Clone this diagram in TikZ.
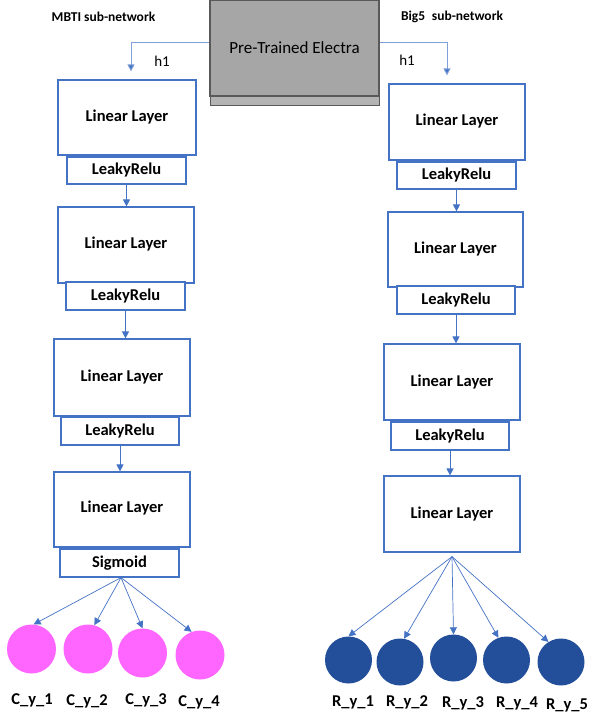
\documentclass[tikz,border=0pt]{standalone}
\usepackage{fontspec}
\setmainfont{Carlito}
\usetikzlibrary{arrows.meta}
\definecolor{bl}{HTML}{4472C4}
\definecolor{blline}{HTML}{7FA0D8}
\definecolor{pinkc}{HTML}{FF66FF}
\definecolor{navyc}{HTML}{234E9A}
\definecolor{grayfill}{HTML}{A6A6A6}
\definecolor{grayedge}{HTML}{595959}
\begin{document}
\begin{tikzpicture}[x=1pt,y=-1pt,
  lin/.style={draw=bl, line width=1.2pt, fill=white, inner sep=0pt, minimum width=136pt, minimum height=76pt, font=\bfseries\fontsize{16.5}{18}\selectfont},
  act/.style={draw=bl, line width=1.2pt, fill=white, inner sep=0pt, minimum width=118pt, minimum height=28pt, font=\bfseries\fontsize{16.5}{18}\selectfont},
  arr/.style={draw=bl, line width=0.9pt, -{Triangle[width=7pt,length=7pt]}},
  harr/.style={draw=blline, line width=0.9pt, -{Triangle[width=7pt,length=7pt,fill=bl]}},
  pc/.style={circle, fill=pinkc, draw=none, minimum size=49pt, inner sep=0pt},
  nc/.style={circle, fill=navyc, draw=none, minimum size=47pt, inner sep=0pt},
  lab/.style={font=\bfseries\fontsize{16.5}{18}\selectfont, inner sep=0pt},
  ttl/.style={font=\bfseries\fontsize{13.5}{15}\selectfont, inner sep=0pt}
]
\useasboundingbox (0,0) rectangle (590,720);

% top
\node[ttl] (tm) at (103.5,17) {MBTI sub-network};
\node[ttl] (tb) at (452,17) {Big5\enspace sub-network};
\fill[grayfill!85] (210,96) rectangle (379,105);
\draw[grayedge, line width=1pt] (210,96) rectangle (379,105);
\node[draw=grayedge, line width=1.4pt, fill=grayfill, minimum width=169pt, minimum height=96pt, inner sep=0pt,
  font=\fontsize{17}{19}\selectfont] (el) at (294.5,48) {Pre-Trained Electra};
\node[inner sep=0pt, font=\fontsize{15}{17}\selectfont] (h1a) at (162,61) {h1};
\node[inner sep=0pt, font=\fontsize{15}{17}\selectfont] (h1b) at (407,60) {h1};

% left column
\node[lin] (a1) at (127,117.5) [minimum width=138pt, minimum height=75pt] {Linear Layer};
\node[act] (ar1) at (126.5,170.5) [minimum width=119pt, minimum height=27pt] {LeakyRelu};
\node[lin] (a2) at (126,245) {\raisebox{5pt}{Linear Layer}};
\node[act] (ar2) at (125.5,296) [minimum width=119pt] {LeakyRelu};
\node[lin] (a3) at (122,377.5) [minimum height=77pt] {Linear Layer};
\node[act] (ar3) at (120,431) {LeakyRelu};
\node[lin] (a4) at (122,509.5) [minimum height=75pt] {\raisebox{5pt}{Linear Layer}};
\node[act] (sg) at (119.5,563) [minimum width=119pt] {Sigmoid};

% right column
\node[lin] (b1) at (457,122) [minimum height=76pt] {\raisebox{4pt}{Linear Layer}};
\node[act] (br1) at (456.5,175.5) [minimum width=119pt, minimum height=27pt] {LeakyRelu};
\node[lin] (b2) at (455.5,249.5) [minimum width=135pt, minimum height=75pt] {\raisebox{4pt}{Linear Layer}};
\node[act] (br2) at (456,300) {LeakyRelu};
\node[lin] (b3) at (452,382) {Linear Layer};
\node[act] (br3) at (450,436) {LeakyRelu};
\node[lin] (b4) at (452,514) {Linear Layer};

% electra connectors
\draw[harr, shorten >=8pt] ([yshift=6pt]el.west) -| ([xshift=4pt]a1.north);
\draw[harr, shorten >=8pt] ([yshift=6pt]el.east) -| ([xshift=-10pt]b1.north);

% vertical arrows
\draw[arr] (ar1.south) -- (ar1.south |- a2.north);
\draw[arr] (ar2.south) -- (ar2.south |- a3.north);
\draw[arr] (ar3.south) -- (ar3.south |- a4.north);
\draw[arr] (br1.south) -- (br1.south |- b2.north);
\draw[arr] (br2.south) -- (br2.south |- b3.north);
\draw[arr] (br3.south) -- (br3.south |- b4.north);

% output circles left
\node[pc] (c1) at (31.5,649) {};
\node[pc] (c2) at (88,649) {};
\node[pc] (c3) at (142.5,653) {};
\node[pc] (c4) at (200,655) {};
\coordinate (so) at ([xshift=1.5pt]sg.south);
\draw[arr, line width=0.7pt] (so) -- (c1.85);
\draw[arr, line width=0.7pt] (so) -- (c2.75);
\draw[arr, line width=0.7pt] (so) -- (c3.90);
\draw[arr, line width=0.7pt] (so) -- (c4.110);
\node[lab] (lc1) at (32,700) {C\_y\_1};
\node[lab] (lc2) at (87,701) {C\_y\_2};
\node[lab] (lc3) at (146,700) {C\_y\_3};
\node[lab] (lc4) at (199,702) {C\_y\_4};

% output circles right
\node[nc] (d1) at (348.5,660) {};
\node[nc] (d2) at (400,662) {};
\node[nc] (d3) at (453.5,658) {};
\node[nc] (d4) at (506.5,660) {};
\node[nc] (d5) at (561,662) {};
\coordinate (ro) at ([yshift=-4pt]b4.south);
\draw[arr, line width=0.7pt] (ro) -- (d1.90);
\draw[arr, line width=0.7pt] (ro) -- (d2.80);
\draw[arr, line width=0.7pt] (ro) -- (d3.90);
\draw[arr, line width=0.7pt] (ro) -- (d4.110);
\draw[arr, line width=0.7pt] (ro) -- (d5.122);
\node[lab] (ld1) at (353,702) {R\_y\_1};
\node[lab] (ld2) at (407,702) {R\_y\_2};
\node[lab] (ld3) at (463,703) {R\_y\_3};
\node[lab] (ld4) at (517,703) {R\_y\_4};
\node[lab] (ld5) at (567,705) {R\_y\_5};
\end{tikzpicture}
\end{document}
